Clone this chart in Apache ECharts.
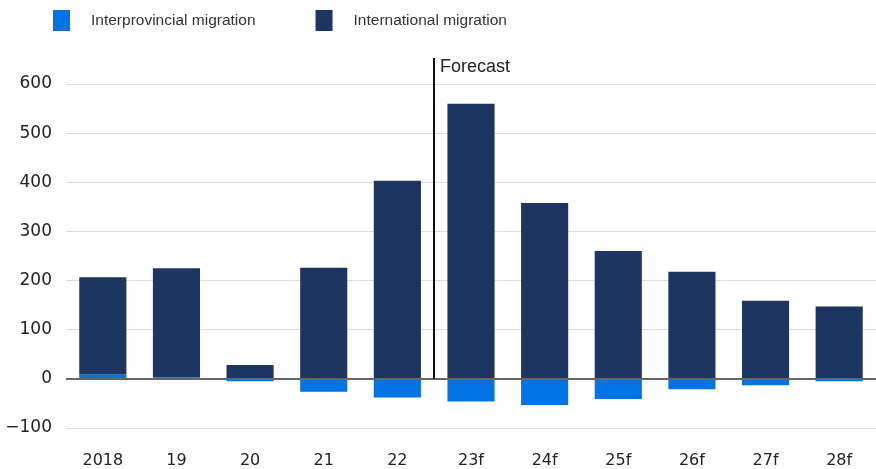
<!DOCTYPE html>
<html>
<head>
<meta charset="utf-8">
<script src="https://cdn.jsdelivr.net/npm/echarts@6/dist/echarts.min.js"></script>
<style>
  html, body { margin: 0; padding: 0; background: #fff; }
  #chart { width: 876px; height: 469px; }
</style>
</head>
<body>
<div id="chart"></div>
<script>
// Net migration components, thousands of people
const categories = ['2018', '19', '20', '21', '22', '23f', '24f', '25f', '26f', '27f', '28f'];
const interprovincial = [9, 3, -5, -26, -38, -46, -53, -41, -21, -13, -5];
const international = [198, 222, 28, 226, 403, 560, 358, 260, 218, 159, 147];
const yTicks = { min: -100, max: 600, step: 100 };
const forecastStart = '23f';
const forecastLabel = 'Forecast';

const FONT = '"Liberation Sans", Arial, sans-serif';
const NUM_FONT = '"DejaVu Sans", "Liberation Sans", sans-serif';
const BLUE = '#0074E4';
const NAVY = '#1C3561';

const chart = echarts.init(document.getElementById('chart'), null, { renderer: 'canvas' });

chart.setOption({
  animation: false,
  backgroundColor: '#fff',
  grid: { left: 66, right: 0, top: 84, bottom: 39, containLabel: false },
  legend: {
    left: 48, top: 5,
    itemWidth: 17, itemHeight: 21, itemGap: 60,
    icon: 'rect',
    textStyle: { fontFamily: FONT, fontSize: 15.5, color: '#333', padding: [0, 0, 0, 16] },
    data: ['Interprovincial migration', 'International migration']
  },
  xAxis: {
    type: 'category',
    data: categories,
    axisLine: { show: false },
    axisTick: { show: false },
    axisLabel: { fontFamily: NUM_FONT, fontSize: 16, color: '#222', margin: 25 }
  },
  yAxis: {
    type: 'value',
    min: yTicks.min, max: yTicks.max, interval: yTicks.step,
    axisLine: { show: false },
    axisTick: { show: false },
    axisLabel: {
      fontFamily: NUM_FONT, fontSize: 17, color: '#222', margin: 14,
      formatter: v => String(v).replace('-', '\u2212')
    },
    splitLine: { lineStyle: { color: '#dcdcdc', width: 1 } }
  },
  series: [
    {
      name: 'Interprovincial migration',
      type: 'bar', stack: 'total', barWidth: '64%',
      itemStyle: { color: BLUE },
      data: interprovincial
    },
    {
      name: 'International migration',
      type: 'bar', stack: 'total', barWidth: '64%',
      itemStyle: { color: NAVY },
      data: international,
      markLine: {
        silent: true, symbol: 'none', label: { show: false },
        lineStyle: { color: '#666', width: 2, type: 'solid' },
        data: [{ yAxis: 0 }]
      }
    }
  ]
});

// Forecast divider sits on the boundary between the last actual year and the first forecast year
const idx = categories.indexOf(forecastStart);
const xPrev = chart.convertToPixel({ xAxisIndex: 0 }, categories[idx - 1]);
const xNext = chart.convertToPixel({ xAxisIndex: 0 }, categories[idx]);
const xDiv = Math.round((xPrev + xNext) / 2);
const yZero = chart.convertToPixel({ yAxisIndex: 0 }, 0);
const yTop = chart.convertToPixel({ yAxisIndex: 0 }, yTicks.max) - 26;

chart.setOption({
  graphic: [
    {
      type: 'line', z: 100,
      shape: { x1: xDiv, y1: yTop, x2: xDiv, y2: yZero },
      style: { stroke: '#111', lineWidth: 2 }
    },
    {
      type: 'text', z: 100,
      left: xDiv + 6, top: yTop,
      style: { text: forecastLabel, font: '18px ' + FONT, fill: '#222' }
    }
  ]
});
</script>
</body>
</html>
